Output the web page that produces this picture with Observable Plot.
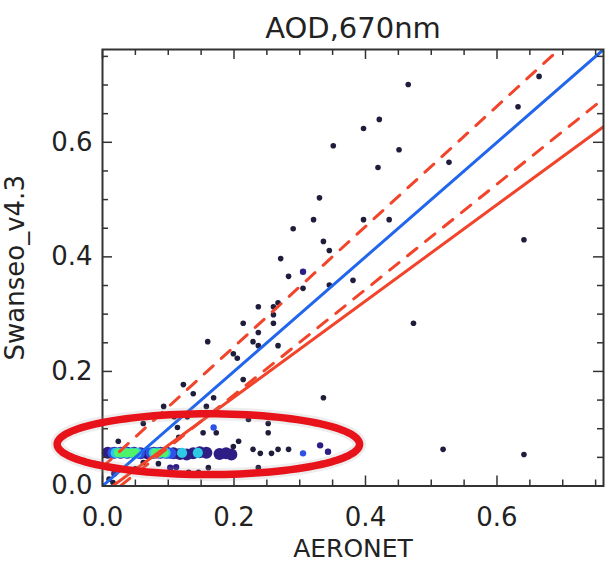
<!DOCTYPE html>
<html>
<head>
<meta charset="utf-8">
<script src="https://cdn.jsdelivr.net/npm/d3@7"></script>
<script src="https://cdn.jsdelivr.net/npm/@observablehq/plot@0.6"></script>
<style>
  html, body { margin: 0; padding: 0; background: #fff; }
  #chart svg { display: block; }
</style>
</head>
<body>
<div id="chart"></div>
<script>
// ---- Chart text ----
const titleText = "AOD,670nm";
const xLabel = "AERONET";
const yLabel = "Swanseo_v4.3";

// ---- Axis ticks ----
const majorTicks = [0.0, 0.2, 0.4, 0.6];
const minorTicks = [0.05, 0.1, 0.15, 0.25, 0.3, 0.35, 0.45, 0.5, 0.55, 0.65, 0.7, 0.75];
const xDomain = [0, 0.762];
const yDomain = [0, 0.762];

// ---- Scatter points (AERONET, Swanseo_v4.3) ----
const ptsX = [0.465,0.421,0.397,0.351,0.451,0.419,0.527,0.330,0.321,0.397,0.436,0.290,0.336,0.345,0.271,0.283,
  0.305,0.345,0.381,0.237,0.260,0.267,0.260,0.260,0.214,0.237,0.229,0.237,0.267,0.473,0.160,0.199,0.205,0.214,
  0.123,0.138,0.169,0.093,0.158,0.062,0.109,0.129,0.114,0.153,0.173,0.116,0.222,0.252,0.252,0.024,0.207,0.199,
  0.229,0.240,0.257,0.267,0.283,0.343,0.336,0.518,0.641,0.664,0.632,0.641,0.070,0.131,0.146,0.161,0.237,0.062,
  0.085,0.050,0.010,0.016];
const ptsY = [0.701,0.640,0.624,0.594,0.587,0.556,0.565,0.503,0.465,0.465,0.465,0.449,0.427,0.411,0.397,0.366,
  0.345,0.351,0.359,0.313,0.313,0.320,0.299,0.284,0.284,0.268,0.252,0.245,0.245,0.284,0.252,0.231,0.223,0.186,
  0.177,0.161,0.154,0.139,0.139,0.109,0.121,0.121,0.102,0.093,0.093,0.085,0.116,0.109,0.093,0.078,0.078,0.069,
  0.064,0.057,0.057,0.064,0.064,0.060,0.154,0.064,0.055,0.715,0.662,0.430,0.024,0.024,0.024,0.032,0.032,0.041,
  0.039,0.030,0.012,0.006];

// coloured single points (density colour of the original)
const colPtsX = [0.305, 0.169, 0.305, 0.331, 0.343, 0.103, 0.112, 0.018];
const colPtsY = [0.374, 0.102, 0.057, 0.071, 0.060, 0.032, 0.033, 0.022];
const colPtsLevel = [1, 2, 2, 1, 1, 1, 1, 1];

// ---- Dense cluster (density band) ----
const blobX = [0.008,0.018,0.028,0.038,0.048,0.058,0.068,0.078,0.088,0.098,0.108,0.118,0.128,0.138,0.148,0.158,0.178,0.188,0.196,
  0.016,0.026,0.036,0.046,0.056,0.074,0.084,0.094,0.104,0.121,0.145,
  0.020,0.028,0.036,0.044,0.052,0.078,0.087,0.096,
  0.024,0.031,0.038,0.045,0.050,0.080,0.087,0.094];
const blobY = [0.058,0.058,0.058,0.058,0.058,0.057,0.057,0.058,0.058,0.058,0.057,0.056,0.055,0.057,0.059,0.058,0.056,0.057,0.055,
  0.058,0.058,0.058,0.058,0.057,0.058,0.058,0.058,0.057,0.058,0.058,
  0.058,0.058,0.058,0.058,0.058,0.058,0.058,0.058,
  0.058,0.058,0.058,0.058,0.058,0.058,0.058,0.058];
const blobLevel = [1,1,1,1,1,1,1,1,1,1,1,1,1,1,1,1,1,1,1,
  2,2,2,2,2,2,2,2,2,3,3,
  3,3,3,3,3,3,3,3,
  4,4,4,4,4,4,4,4];

// ---- Reference / fit lines: y = slope * x + intercept ----
const lineNames = ["one-to-one", "upper envelope", "lower envelope", "fit"];
const lineSlopes = [1.0, 1.05, 0.92, 0.84];
const lineIntercepts = [0.0, 0.033, -0.025, -0.013];

// ---- Highlight ellipse (data units): centre and radii ----
const ellipseCenter = [0.161, 0.073];
const ellipseRadii = [0.230, 0.053];

// ---- Build tables ----
const points = ptsX.map((x, i) => ({x, y: ptsY[i]}));
const colPoints = colPtsX.map((x, i) => ({x, y: colPtsY[i], level: colPtsLevel[i]}));
const blob = blobX.map((x, i) => ({x, y: blobY[i], level: blobLevel[i]}));
const lines = lineNames.map((name, i) => xDomain.map(x => ({name, x, y: lineSlopes[i] * x + lineIntercepts[i]})));
const ellipse = d3.range(0, 361, 3).map(a => ({
  x: ellipseCenter[0] + ellipseRadii[0] * Math.cos(a * Math.PI / 180),
  y: ellipseCenter[1] + ellipseRadii[1] * Math.sin(a * Math.PI / 180)
}));

const levelColor = {1: "#2f1d86", 2: "#2f52e6", 3: "#2ec9e4", 4: "#4ef36a"};
const levelR = {1: 6, 2: 5.6, 3: 5.1, 4: 4.4};

const W = 605, H = 564, mL = 102, mR = 2, mT = 49, mB = 78.5;
const innerW = W - mL - mR, innerH = H - mT - mB;
const fmt = d3.format(".1f");
const tickStroke = "#333";

const blueC = "#2266ee", redC = "#f2432b";

const chart = Plot.plot({
  width: W, height: H,
  marginLeft: mL, marginRight: mR, marginTop: mT, marginBottom: mB,
  x: {domain: xDomain},
  y: {domain: yDomain},
  style: {fontFamily: "DejaVu Sans", fontSize: "26px", color: "#222", background: "#fff"},
  marks: [
    // density band
    ...[1, 2, 3, 4].map(l => Plot.dot(blob.filter(d => d.level === l), {x: "x", y: "y", r: levelR[l], fill: levelColor[l]})),
    // scatter points
    Plot.dot(points, {x: "x", y: "y", r: 2.8, fill: "#1e1e3c"}),
    Plot.dot(colPoints, {x: "x", y: "y", r: 3.2, fill: d => levelColor[d.level]}),
    // lines
    Plot.line(lines[0], {x: "x", y: "y", stroke: blueC, strokeWidth: 3, clip: true}),
    Plot.line(lines[3], {x: "x", y: "y", stroke: redC, strokeWidth: 3, clip: true}),
    Plot.line(lines[1], {x: "x", y: "y", stroke: redC, strokeWidth: 3, strokeDasharray: "12,11", clip: true}),
    Plot.line(lines[2], {x: "x", y: "y", stroke: redC, strokeWidth: 3, strokeDasharray: "12,11", clip: true}),
    // frame & inward ticks
    Plot.frame({stroke: tickStroke, strokeWidth: 2}),
    Plot.tickX(majorTicks, {x: d => d, insetTop: innerH - 10, stroke: tickStroke, strokeWidth: 1.5}),
    Plot.tickX(majorTicks, {x: d => d, insetBottom: innerH - 10, stroke: tickStroke, strokeWidth: 1.5}),
    Plot.tickX(minorTicks, {x: d => d, insetTop: innerH - 6, stroke: tickStroke, strokeWidth: 1.5}),
    Plot.tickX(minorTicks, {x: d => d, insetBottom: innerH - 6, stroke: tickStroke, strokeWidth: 1.5}),
    Plot.tickY(majorTicks, {y: d => d, insetRight: innerW - 10, stroke: tickStroke, strokeWidth: 1.5}),
    Plot.tickY(majorTicks, {y: d => d, insetLeft: innerW - 10, stroke: tickStroke, strokeWidth: 1.5}),
    Plot.tickY(minorTicks, {y: d => d, insetRight: innerW - 6, stroke: tickStroke, strokeWidth: 1.5}),
    Plot.tickY(minorTicks, {y: d => d, insetLeft: innerW - 6, stroke: tickStroke, strokeWidth: 1.5}),
    // axes labels
    Plot.axisX(majorTicks, {tickSize: 0, tickPadding: 22, tickFormat: fmt, label: null, fontSize: 26, fill: "#222"}),
    Plot.axisY(majorTicks, {tickSize: 0, tickPadding: 10, tickFormat: fmt, label: null, fontSize: 26, fill: "#222"}),
    Plot.text([xLabel], {frameAnchor: "bottom", lineAnchor: "middle", textAnchor: "middle", dy: 63, text: d => d, fontSize: 25, fill: "#222"}),
    Plot.text([yLabel], {frameAnchor: "left", lineAnchor: "middle", textAnchor: "middle", dx: -87, rotate: -90, text: d => d, fontSize: 26, fill: "#222"}),
    Plot.text([titleText], {frameAnchor: "top", lineAnchor: "middle", textAnchor: "middle", dy: -21, text: d => d, fontSize: 29, fill: "#222", letterSpacing: "3.5px"}),
    // highlight ellipse
    Plot.line(ellipse, {x: "x", y: "y", stroke: "#999", strokeWidth: 13, strokeOpacity: 0.18}),
    Plot.line(ellipse, {x: "x", y: "y", stroke: "#e8121a", strokeWidth: 7.5})
  ]
});
document.getElementById("chart").appendChild(chart);
</script>
</body>
</html>
